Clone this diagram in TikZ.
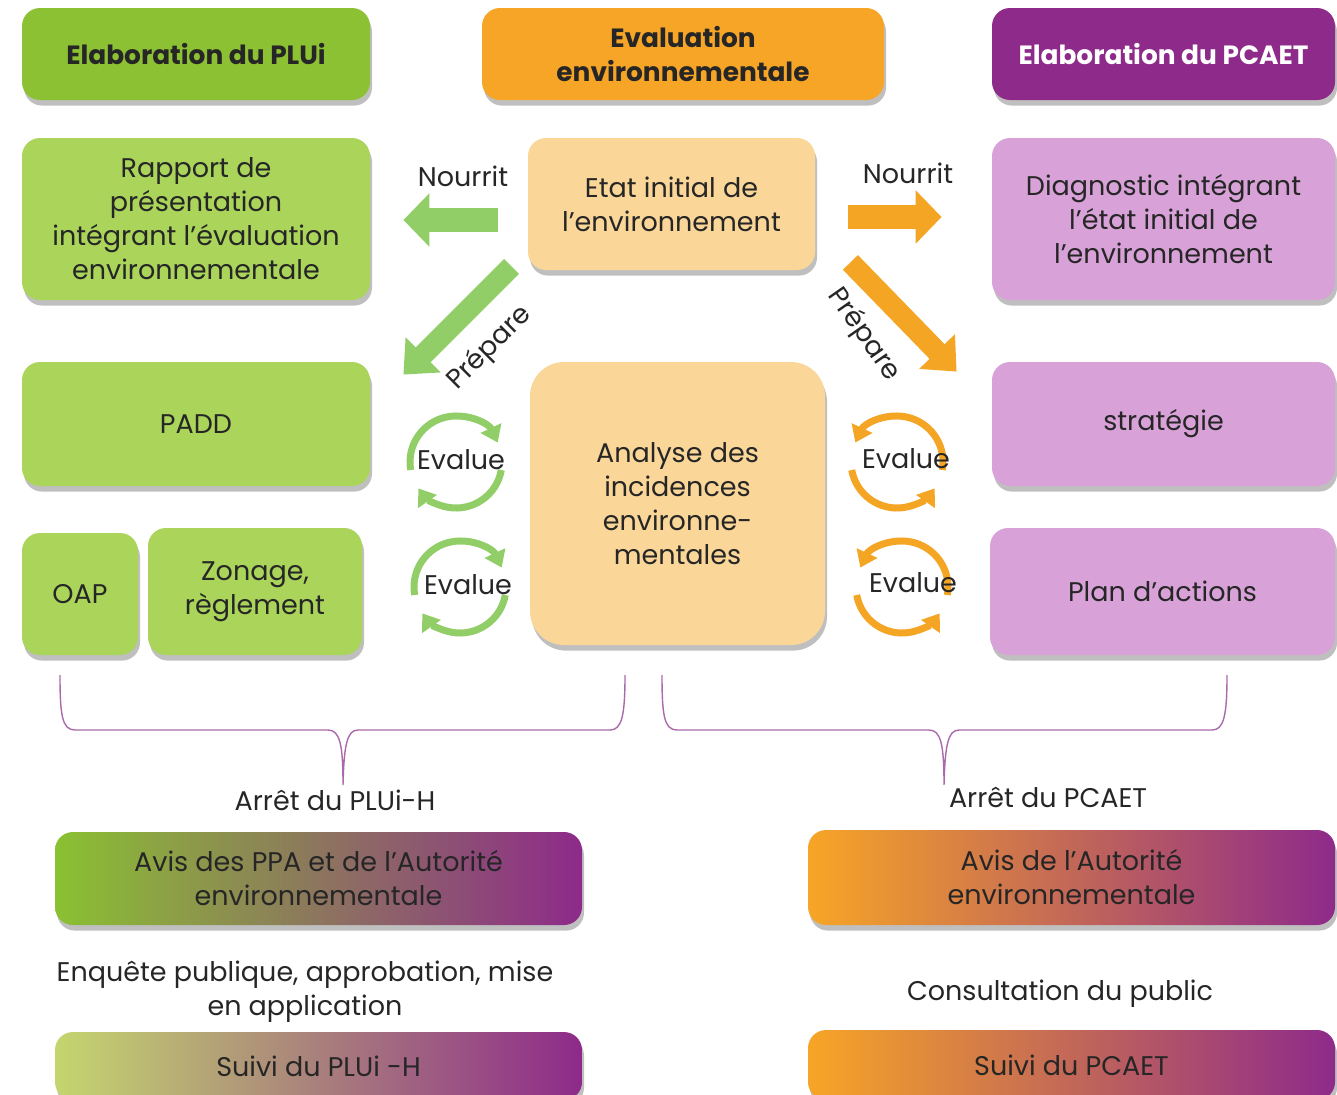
\documentclass[tikz,border=0pt]{standalone}
\usepackage{fontspec}
\setmainfont{Poppins}
\usetikzlibrary{arrows.meta,shadows,calc}

\definecolor{hdgreen}{RGB}{139,193,50}
\definecolor{hdorange}{RGB}{247,165,38}
\definecolor{hdpurple}{RGB}{142,42,138}
\definecolor{ltgreen}{RGB}{170,212,90}
\definecolor{ltorange}{RGB}{250,214,152}
\definecolor{ltpurple}{RGB}{216,162,216}
\definecolor{arrgreen}{RGB}{146,206,104}
\definecolor{arrorange}{RGB}{244,165,36}
\definecolor{sgreen}{RGB}{196,214,110}
\definecolor{bracecol}{RGB}{170,105,170}
\definecolor{txt}{RGB}{38,38,38}

\begin{document}
\begin{tikzpicture}[x=0.5pt,y=0.5pt,yscale=-1,
  bloc/.style={rounded corners=9pt, align=center, inner sep=0pt, text=txt,
    font=\fontsize{13.5}{17}\selectfont,
    drop shadow={shadow xshift=1pt, shadow yshift=-2.8pt, opacity=0.5}},
  titre/.style={bloc, font=\fontsize{13.2}{17}\selectfont\bfseries},
  legende/.style={align=center, text=txt, font=\fontsize{13.5}{17}\selectfont},
  nourrirG/.style={draw=arrgreen, line width=12pt, -{Triangle[length=13pt,width=26pt]}},
  nourrirO/.style={nourrirG, draw=arrorange},
  prepG/.style={draw=arrgreen, line width=10.5pt, -{Triangle[length=14pt,width=24pt]}},
  prepO/.style={prepG, draw=arrorange},
  evalG/.style={draw=arrgreen, line width=3.5pt, -{Triangle[length=8pt,width=11pt]}},
  evalO/.style={evalG, draw=arrorange},
  accolade/.style={draw=bracecol, line width=0.7pt}]
\useasboundingbox (0,0) rectangle (1337,1094);

% Header nodes
\node[titre, fill=hdgreen, minimum width=174pt, minimum height=46pt] (hplui) at (196,54) {Elaboration du PLUi};
\node[titre, fill=hdorange, minimum width=201pt, minimum height=46pt] (heval) at (683,54) {Evaluation\\environnementale};
\node[titre, fill=hdpurple, text=white, minimum width=171.5pt, minimum height=46pt] (hpcaet) at (1163.5,54) {Elaboration du PCAET};

% PLUi column
\node[bloc, fill=ltgreen, minimum width=174pt, minimum height=81pt] (rapport) at (196,219) {Rapport de\\présentation\\intégrant l’évaluation\\environnementale};
\node[bloc, fill=ltgreen, minimum width=174pt, minimum height=62pt] (padd) at (196,424) {PADD};
\node[bloc, fill=ltgreen, minimum width=58pt, minimum height=61pt] (oap) at (80,594) {OAP};
\node[bloc, fill=ltgreen, minimum width=107pt, minimum height=63.5pt] (zonage) at (255,591.5) {Zonage,\\règlement};

% evaluation column
\node[bloc, fill=ltorange, minimum width=143.5pt, minimum height=66pt] (etat) at (671.5,204) {Etat initial de\\l'environnement};
\node[bloc, fill=ltorange, minimum width=147.5pt, minimum height=141.5pt, rounded corners=17pt] (analyse) at (677.5,503.5) {Analyse des\\incidences\\environne-\\mentales};

% PCAET column
\node[bloc, fill=ltpurple, minimum width=171.5pt, minimum height=81pt] (diag) at (1163.5,219) {Diagnostic intégrant\\l’état initial de\\l’environnement};
\node[bloc, fill=ltpurple, minimum width=171.5pt, minimum height=62pt] (strat) at (1163.5,424) {stratégie};
\node[bloc, fill=ltpurple, minimum width=172.5pt, minimum height=63.5pt] (plan) at (1162.5,591.5) {Plan d’actions};

% Nourrit arrows
\draw[nourrirG] ($(etat.west)+(-30,16)$) -- ($(rapport.east)+(33,1)$);
\draw[nourrirO] ($(etat.east)+(33,13)$) -- ($(diag.west)+(-50,-2)$);
\node[legende] (nourritG) at (463,176) {Nourrit};
\node[legende] (nourritO) at (908,173) {Nourrit};

% Prepare arrows
\draw[prepG] ($(etat.south west)+(-16,-4)$) -- ($(padd.north east)+(33,13)$);
\draw[prepO] ($(etat.south east)+(35,-8)$) -- ($(strat.north west)+(-35,10)$);
\node[legende, rotate=45] (prepareG) at (490,348) {Prépare};
\node[legende, rotate=-55] (prepareO) at (864,335) {Prépare};

% Evalue cycles
\coordinate (cycG1) at (456,462);
\coordinate (cycG2) at (460,587);
\coordinate (cycO1) at (897,462);
\coordinate (cycO2) at (902,587);
\foreach \c in {cycG1,cycG2}{
  \draw[evalG] ($(\c)+(-190:46)$) arc[start angle=-190, end angle=-25, radius=46];
  \draw[evalG] ($(\c)+(10:46)$) arc[start angle=10, end angle=145, radius=46];
}
\foreach \c in {cycO1,cycO2}{
  \draw[evalO] ($(\c)+(10:46)$) arc[start angle=10, end angle=-155, radius=46];
  \draw[evalO] ($(\c)+(-190:46)$) arc[start angle=-190, end angle=-325, radius=46];
}
\node[legende] (evalG1) at ($(cycG1)+(5,-2)$) {Evalue};
\node[legende] (evalG2) at ($(cycG2)+(8,-2)$) {Evalue};
\node[legende] (evalO1) at ($(cycO1)+(9,-3)$) {Evalue};
\node[legende] (evalO2) at ($(cycO2)+(11,-4)$) {Evalue};

% Braces
\node[legende] (arretL) at (335,800) {Arrêt du PLUi-H};
\node[legende] (arretR) at (1048,797) {Arrêt du PCAET};
\draw[accolade] (60,675) .. controls (60,715) and (62,730) .. (75,730) -- (328,730) .. controls (340,730) and (343,745) .. (343,785) .. controls (344,745) and (347,730) .. (358,730) -- (610,730) .. controls (622,730) and (625,715) .. (625,675);
\draw[accolade] (662,675) .. controls (662,715) and (664,730) .. (677,730) -- (929,730) .. controls (941,730) and (944,745) .. (944,785) .. controls (945,745) and (948,730) .. (959,730) -- (1212,730) .. controls (1224,730) and (1227,715) .. (1227,675);

% Final steps
\node[bloc, left color=hdgreen, right color=hdpurple, minimum width=263.5pt, minimum height=46.5pt] (avisL) at (318.5,878.5) {Avis des PPA et de l'Autorité\\environnementale};
\node[bloc, left color=hdorange, right color=hdpurple, minimum width=263.5pt, minimum height=47.5pt] (avisR) at (1071.5,877.5) {Avis de l'Autorité\\environnementale};
\node[legende] (enquete) at (305,992) {Enquête publique, approbation, mise\\en application};
\node[legende] (consult) at (1060,994) {Consultation du public};
\node[bloc, left color=sgreen, right color=hdpurple, minimum width=263.5pt, minimum height=34pt] (suiviL) at (318.5,1066) {Suivi du PLUi -H};
\node[bloc, left color=hdorange, right color=hdpurple, minimum width=263.5pt, minimum height=35pt] (suiviR) at (1071.5,1065) {Suivi du PCAET};

\end{tikzpicture}
\end{document}
